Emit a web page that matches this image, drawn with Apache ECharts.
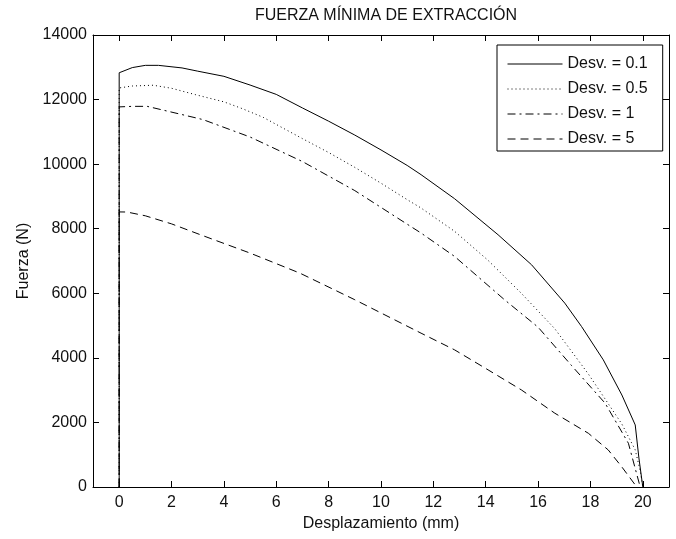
<!DOCTYPE html>
<html>
<head>
<meta charset="utf-8">
<script src="https://cdn.jsdelivr.net/npm/echarts@6/dist/echarts.min.js"></script>
<style>
html,body{margin:0;padding:0;background:#fff;}
#chart{width:676px;height:539px;}
</style>
</head>
<body>
<div id="chart"></div>
<script>
// ---- data ----
var seriesNames = ['Desv. = 0.1', 'Desv. = 0.5', 'Desv. = 1', 'Desv. = 5'];
var xTicks = [0, 2, 4, 6, 8, 10, 12, 14, 16, 18, 20];

var x01 = [0, 0, 0.5, 1.0, 1.5, 2.4, 3, 4, 5, 6, 7, 8, 9, 10, 11, 11.53, 12.81, 14.47, 15.75, 17.02, 17.66, 18.49, 19.2, 19.71, 19.85, 20.0];
var y01 = [0, 12830, 12990, 13060, 13060, 12980, 12880, 12720, 12450, 12160, 11740, 11330, 10900, 10440, 9960, 9674, 8930, 7814, 6884, 5695, 4970, 3938, 2850, 1922, 900, 0];

var x05 = [0, 0, 0.5, 1.3, 2, 2.9, 4, 4.7, 5.5, 7, 8, 9, 10, 11, 11.53, 12.81, 14.09, 15.36, 16.64, 17.92, 19.2, 19.71, 19.9, 20];
var y05 = [0, 12360, 12420, 12444, 12350, 12155, 11930, 11720, 11450, 10790, 10360, 9900, 9410, 8900, 8641, 7920, 7020, 6000, 4900, 3500, 1950, 1150, 500, 0];

var x1 = [0, 0, 0.5, 1.07, 2.4, 3.2, 5, 7, 9, 11, 11.53, 12.81, 14.72, 16.0, 17.28, 18.56, 19.45, 19.9];
var y1 = [0, 11773, 11790, 11790, 11535, 11380, 10840, 10080, 9180, 8140, 7866, 7142, 5798, 4950, 3760, 2595, 1354, 0];

var x5 = [0, 0, 0.3, 1, 2, 3.1, 5.0, 6.9, 9, 11.53, 12.81, 14.09, 15.36, 16.64, 17.92, 18.68, 19.2, 19.77];
var y5 = [0, 8520, 8517, 8400, 8150, 7814, 7245, 6625, 5800, 4765, 4248, 3628, 3008, 2285, 1664, 1147, 620, 0];

function pairs(xs, ys) { return xs.map(function (x, i) { return [x, ys[i]]; }); }

var FONT = "'Liberation Sans', Arial, Helvetica, sans-serif";
var chart = echarts.init(document.getElementById('chart'), null, {renderer: 'canvas'});

function mkSeries(name, data, dash) {
  return {
    name: name, type: 'line', data: data, showSymbol: false, symbol: 'none',
    xAxisIndex: 0, yAxisIndex: 0, animation: false, silent: true,
    lineStyle: {color: '#000', width: 1, type: dash},
    itemStyle: {color: '#000'}
  };
}

function axLine() { return {show: true, onZero: false, lineStyle: {color: '#000', width: 1}}; }
function plain(v) { return String(v); }

chart.setOption({
  backgroundColor: '#fff',
  animation: false,
  title: {
    text: 'FUERZA MÍNIMA DE EXTRACCIÓN',
    left: 381, top: 3, textAlign: 'center',
    textStyle: {fontFamily: FONT, fontSize: 16, fontWeight: 'normal', color: '#111'}
  },
  legend: {
    orient: 'vertical', left: 497, top: 45,
    padding: [11, 15, 4, 10],
    itemWidth: 55, itemHeight: 14, itemGap: 9,
    backgroundColor: '#fff', borderColor: '#000', borderWidth: 1,
    itemStyle: {opacity: 0},
    lineStyle: {width: 1, color: '#000'},
    textStyle: {fontFamily: FONT, fontSize: 16, color: '#111'},
    data: seriesNames,
    selectedMode: false
  },
  grid: {left: 93, right: 7, top: 35, bottom: 52, containLabel: false},
  xAxis: [{
    type: 'value', min: -1, max: 21, position: 'bottom',
    name: 'Desplazamiento (mm)', nameLocation: 'middle', nameGap: 27,
    nameTextStyle: {fontFamily: FONT, fontSize: 16, color: '#111'},
    axisLine: axLine(),
    axisTick: {show: true, inside: true, length: 6, customValues: xTicks, lineStyle: {color: '#000'}},
    axisLabel: {show: true, customValues: xTicks, margin: 8, fontFamily: FONT, fontSize: 16, color: '#111', formatter: plain},
    splitLine: {show: false}
  }, {
    type: 'value', min: -1, max: 21, position: 'top',
    axisLine: axLine(),
    axisTick: {show: true, inside: true, length: 6, customValues: xTicks, lineStyle: {color: '#000'}},
    axisLabel: {show: false},
    splitLine: {show: false}
  }],
  yAxis: [{
    type: 'value', min: 0, max: 14000, interval: 2000, position: 'left',
    name: 'Fuerza (N)', nameLocation: 'middle', nameGap: 59,
    nameTextStyle: {fontFamily: FONT, fontSize: 16, color: '#111'},
    axisLine: axLine(),
    axisTick: {show: true, inside: true, length: 6, lineStyle: {color: '#000'}},
    axisLabel: {margin: 6, fontFamily: FONT, fontSize: 16, color: '#111', formatter: plain},
    splitLine: {show: false}
  }, {
    type: 'value', min: 0, max: 14000, interval: 2000, position: 'right',
    axisLine: axLine(),
    axisTick: {show: true, inside: true, length: 6, lineStyle: {color: '#000'}},
    axisLabel: {show: false},
    splitLine: {show: false}
  }],
  series: [
    mkSeries(seriesNames[0], pairs(x01, y01), 'solid'),
    mkSeries(seriesNames[1], pairs(x05, y05), [1, 3]),
    mkSeries(seriesNames[2], pairs(x1, y1), [8, 4, 2, 4]),
    mkSeries(seriesNames[3], pairs(x5, y5), [8, 5])
  ]
});
</script>
</body>
</html>
